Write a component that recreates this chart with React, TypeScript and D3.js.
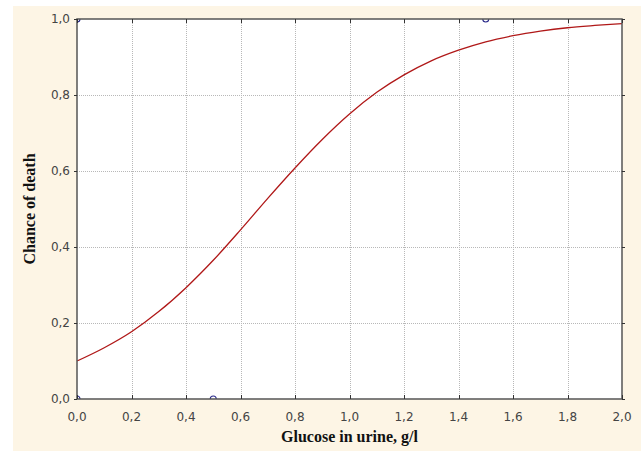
import { useEffect, useRef } from 'react'
import * as d3 from 'd3'

// fitted curve
const curveX = [0, 0.1, 0.2, 0.3, 0.4, 0.5, 0.6, 0.7, 0.8, 0.9, 1.0, 1.1, 1.2, 1.3, 1.4, 1.5, 1.6, 1.7, 1.8, 1.9, 2.0]
const curveY = [0.1, 0.135, 0.177, 0.23, 0.293, 0.365, 0.445, 0.528, 0.608, 0.683, 0.75, 0.807, 0.853, 0.89, 0.918, 0.94, 0.956, 0.968, 0.977, 0.983, 0.988]

// observed cases
const obsX = [0, 0, 0.5, 1.5]
const obsY = [0, 1, 0, 1]

const xTicks = [0, 0.2, 0.4, 0.6, 0.8, 1.0, 1.2, 1.4, 1.6, 1.8, 2.0]
const yTicks = [0, 0.2, 0.4, 0.6, 0.8, 1.0]

const fmt = (v: number) => v.toFixed(1).replace('.', ',')

export default function App() {
  const ref = useRef<SVGSVGElement>(null)

  useEffect(() => {
    const svg = d3.select(ref.current)
    svg.selectAll('*').remove()

    const width = 641
    const height = 453
    const margin = { top: 19, right: 19, bottom: 54, left: 77 }
    const pw = width - margin.left - margin.right
    const ph = height - margin.top - margin.bottom

    // cream panel
    svg.append('rect')
      .attr('x', 13).attr('y', 6)
      .attr('width', width - 13).attr('height', 445)
      .attr('fill', '#fdf5e5')

    const x = d3.scaleLinear().domain([0, 2]).range([margin.left, margin.left + pw])
    const y = d3.scaleLinear().domain([0, 1]).range([margin.top + ph, margin.top])

    svg.append('rect')
      .attr('x', margin.left).attr('y', margin.top)
      .attr('width', pw).attr('height', ph)
      .attr('fill', '#fff')

    svg.append('clipPath').attr('id', 'plot-clip')
      .append('rect')
      .attr('x', margin.left).attr('y', margin.top)
      .attr('width', pw).attr('height', ph)

    // grid
    const grid = svg.append('g')
      .attr('stroke', '#b8b8b8')
      .attr('stroke-width', 1)
      .attr('stroke-dasharray', '1,1')
    xTicks.slice(1, -1).forEach(t => {
      grid.append('line')
        .attr('x1', Math.round(x(t)) + 0.5).attr('x2', Math.round(x(t)) + 0.5)
        .attr('y1', margin.top).attr('y2', margin.top + ph)
    })
    yTicks.slice(1, -1).forEach(t => {
      grid.append('line')
        .attr('y1', Math.round(y(t)) + 0.5).attr('y2', Math.round(y(t)) + 0.5)
        .attr('x1', margin.left).attr('x2', margin.left + pw)
    })

    // curve
    const line = d3.line<number>()
      .x((_, i) => x(curveX[i]))
      .y(d => y(d))
      .curve(d3.curveMonotoneX)

    svg.append('path')
      .datum(curveY)
      .attr('fill', 'none')
      .attr('stroke', '#b01818')
      .attr('stroke-width', 1.3)
      .attr('d', line)

    // observed points
    svg.append('g')
      .attr('clip-path', 'url(#plot-clip)')
      .selectAll('circle')
      .data(obsX)
      .join('circle')
      .attr('cx', d => x(d))
      .attr('cy', (_, i) => y(obsY[i]))
      .attr('r', 3)
      .attr('fill', 'none')
      .attr('stroke', '#2a2a8a')
      .attr('stroke-width', 1.1)

    // frame
    svg.append('rect')
      .attr('x', margin.left).attr('y', margin.top)
      .attr('width', pw).attr('height', ph)
      .attr('fill', 'none')
      .attr('stroke', '#555')
      .attr('stroke-width', 1.5)

    // ticks
    const tk = svg.append('g').attr('stroke', '#333').attr('stroke-width', 1)
    xTicks.forEach(t => {
      const px = Math.round(x(t)) + 0.5
      tk.append('line').attr('x1', px).attr('x2', px)
        .attr('y1', margin.top + ph).attr('y2', margin.top + ph - 4)
      tk.append('line').attr('x1', px).attr('x2', px)
        .attr('y1', margin.top).attr('y2', margin.top + 4)
    })
    yTicks.forEach(t => {
      const py = Math.round(y(t)) + 0.5
      tk.append('line').attr('y1', py).attr('y2', py)
        .attr('x1', margin.left).attr('x2', margin.left - 3)
      tk.append('line').attr('y1', py).attr('y2', py)
        .attr('x1', margin.left + pw).attr('x2', margin.left + pw + 3)
    })

    // tick labels
    svg.append('g')
      .selectAll('text')
      .data(xTicks)
      .join('text')
      .attr('x', d => x(d))
      .attr('y', margin.top + ph + 22)
      .attr('text-anchor', 'middle')
      .attr('font-family', 'DejaVu Sans, sans-serif')
      .attr('font-size', 12)
      .attr('fill', '#444')
      .text(fmt)

    svg.append('g')
      .selectAll('text')
      .data(yTicks)
      .join('text')
      .attr('x', margin.left - 7)
      .attr('y', d => y(d) + 4)
      .attr('text-anchor', 'end')
      .attr('font-family', 'DejaVu Sans, sans-serif')
      .attr('font-size', 12)
      .attr('fill', '#444')
      .text(fmt)

    // axis titles
    svg.append('text')
      .attr('x', margin.left + pw / 2)
      .attr('y', 442)
      .attr('text-anchor', 'middle')
      .attr('font-family', 'Liberation Serif, Times New Roman, serif')
      .attr('font-weight', 'bold')
      .attr('font-size', 16)
      .attr('fill', '#111')
      .text('Glucose in urine, g/l')

    svg.append('text')
      .attr('transform', `translate(35,${margin.top + ph / 2}) rotate(-90)`)
      .attr('text-anchor', 'middle')
      .attr('font-family', 'Liberation Serif, Times New Roman, serif')
      .attr('font-weight', 'bold')
      .attr('font-size', 16)
      .attr('fill', '#111')
      .text('Chance of death')
  }, [])

  return (
    <svg
      ref={ref}
      width={641}
      height={453}
      style={{ position: 'absolute', left: 0, top: 0, background: '#fff' }}
    />
  )
}
